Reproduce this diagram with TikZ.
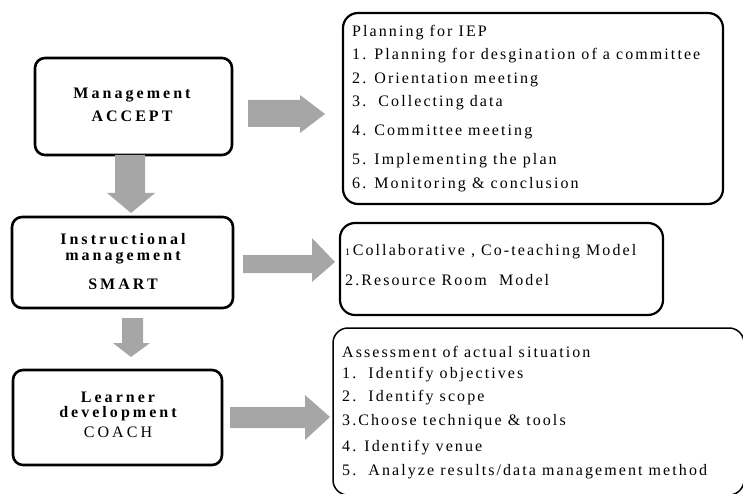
\documentclass[tikz,border=0pt]{standalone}
\usepackage{fontspec}
\setmainfont{Liberation Serif}[LetterSpace=13]
\newfontfamily\lbfont{Liberation Serif}[LetterSpace=19]
\begin{document}
\begin{tikzpicture}[x=1pt,y=-1pt,
  leftbox/.style={draw=black,line width=2.6pt,rounded corners=10pt},
  bigbox/.style={draw=black,line width=2.2pt,rounded corners=15pt},
  thinbox/.style={draw=black,line width=1.5pt,rounded corners=15pt},
  blockarrow/.style={fill=arrowgray,draw=none},
  ltext/.style={font=\lbfont\fontsize{16}{18}\selectfont\bfseries,inner sep=0pt,anchor=base},
  ltextr/.style={font=\lbfont\fontsize{16}{18}\selectfont,inner sep=0pt,anchor=base},
  rtext/.style={font=\fontsize{16}{18}\selectfont,inner sep=0pt,anchor=west}]
\definecolor{arrowgray}{RGB}{166,166,166}
\useasboundingbox (0,0) rectangle (743,494);
\clip (0,0) rectangle (743,494);
% left boxes
\draw[leftbox] (35,58) rectangle (232,155);
\node[ltext] (m1) at (132,99) {Management};
\node[ltext] (m2) at (132,122) {ACCEPT};
\draw[leftbox] (12,217) rectangle (233,308);
\node[ltext] (i1) at (123,244) {Instructional};
\node[ltext] (i2) at (123,260) {management};
\node[ltext] (i3) at (123,289) {SMART};
\draw[leftbox] (13,370) rectangle (222,465);
\node[ltext] (l1) at (118,402) {Learner};
\node[ltext] (l2) at (118,417) {development};
\node[ltextr] (l3) at (118,437) {COACH};
% right boxes
\draw[bigbox] (343,13) rectangle (723,204);
\node[rtext] (a0) at (352,33) {Planning for IEP};
\node[rtext] (a1) at (352,56) {1. Planning for desgination of a committee};
\node[rtext] (a2) at (352,80) {2. Orientation meeting};
\node[rtext] (a3) at (352,103) {3.\ \ Collecting data};
\node[rtext] (a4) at (352,132) {4. Committee meeting};
\node[rtext] (a5) at (352,161) {5. Implementing the plan};
\node[rtext] (a6) at (352,185) {6. Monitoring \& conclusion};
\draw[bigbox] (340,223) rectangle (663,315);
\node[rtext] (s1) at (345,252) {{\fontsize{10}{12}\selectfont 1}\,Collaborative , Co-teaching Model};
\node[rtext] (s2) at (345,280) {2.Resource Room\ \ Model};
\draw[thinbox] (333,328) rectangle (744,495);
\node[rtext] (c0) at (342,352) {Assessment of actual situation};
\node[rtext] (c1) at (342,375) {1.\ \ Identify objectives};
\node[rtext] (c2) at (342,398) {2.\ \ Identify scope};
\node[rtext] (c3) at (342,422) {3.Choose technique \& tools};
\node[rtext] (c4) at (342,448) {4. Identify venue};
\node[rtext] (c5) at (342,472) {5.\ \ Analyze results/data management method};
% block arrows
\fill[blockarrow] (115,155) -- (145,155) -- (145,193) -- (155,193) -- (131,213) -- (107,193) -- (115,193) -- cycle;
\fill[blockarrow] (248,100) -- (300,100) -- (300,95) -- (325,114) -- (300,133) -- (300,127) -- (248,127) -- cycle;
\fill[blockarrow] (243,255) -- (312,255) -- (312,238) -- (335,262) -- (312,282) -- (312,273) -- (243,273) -- cycle;
\fill[blockarrow] (122,318) -- (143,318) -- (143,343) -- (150,343) -- (131,357) -- (113,343) -- (122,343) -- cycle;
\fill[blockarrow] (230,407) -- (305,407) -- (305,395) -- (330,417) -- (305,440) -- (305,428) -- (230,428) -- cycle;
\end{tikzpicture}
\end{document}
